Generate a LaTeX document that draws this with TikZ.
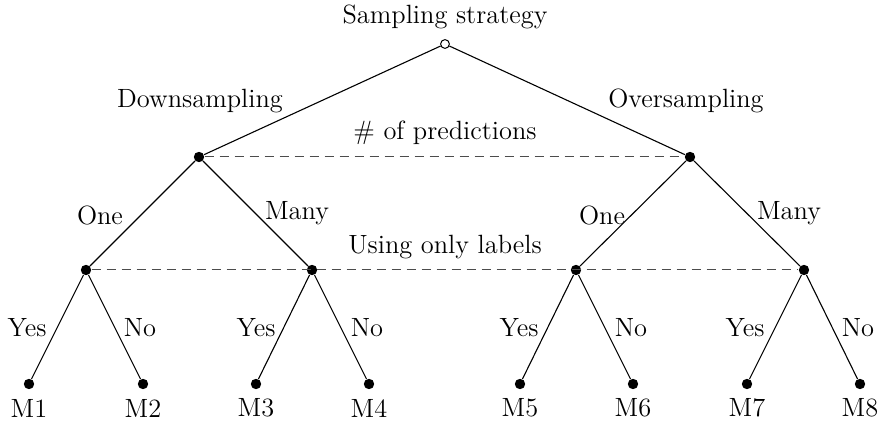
\documentclass[tikz,border=0pt]{standalone}
\begin{document}
\begin{tikzpicture}[x=0.5pt,y=-0.5pt,
  font=\fontsize{13.2}{16}\selectfont,
  dot/.style={circle,fill=black,inner sep=0pt,minimum size=5.2pt},
  opendot/.style={circle,draw=black,fill=white,inner sep=0pt,minimum size=4.4pt,line width=0.5pt},
  lbl/.style={inner sep=0pt},
  branch/.style={line width=0.55pt},
  level/.style={dash pattern=on 4.5pt off 3pt,draw=black!70,line width=0.5pt}]
\useasboundingbox (0,0) rectangle (880,422);

% tree nodes
\node[opendot] (root) at (445,44) {};
\node[dot] (d) at (199,157) {};
\node[dot] (o) at (690,157) {};
\node[dot] (d1) at (86,270) {};
\node[dot] (dm) at (312,270) {};
\node[dot] (o1) at (576,270) {};
\node[dot] (om) at (804,270) {};
\node[dot] (m1) at (29,384) {};
\node[dot] (m2) at (143,384) {};
\node[dot] (m3) at (256,384) {};
\node[dot] (m4) at (369,384) {};
\node[dot] (m5) at (520,384) {};
\node[dot] (m6) at (633,384) {};
\node[dot] (m7) at (747,384) {};
\node[dot] (m8) at (860,384) {};

% level separators
\draw[level] (d) -- (o);
\draw[level] (d1) -- (om);

% branches
\draw[branch] (root) -- (d);
\draw[branch] (root) -- (o);
\draw[branch] (d) -- (d1);
\draw[branch] (d) -- (dm);
\draw[branch] (o) -- (o1);
\draw[branch] (o) -- (om);
\draw[branch] (d1) -- (m1);
\draw[branch] (d1) -- (m2);
\draw[branch] (dm) -- (m3);
\draw[branch] (dm) -- (m4);
\draw[branch] (o1) -- (m5);
\draw[branch] (o1) -- (m6);
\draw[branch] (om) -- (m7);
\draw[branch] (om) -- (m8);

% labels
\node[lbl] (t0) at (445,17) {Sampling strategy};
\node[lbl] (tds) at (200,101) {Downsampling};
\node[lbl] (tos) at (686,101) {Oversampling};
\node[lbl] (tpred) at (445,133) {\# of predictions};
\node[lbl] (tlab) at (445,247) {Using only labels};
\node[lbl] (tone1) at (100,215) {One};
\node[lbl] (tmany1) at (297,213) {Many};
\node[lbl] (tone2) at (602,215) {One};
\node[lbl] (tmany2) at (789,213) {Many};
\node[lbl] (y1) at (27,328) {Yes};
\node[lbl] (n1) at (140,328) {No};
\node[lbl] (y2) at (256,328) {Yes};
\node[lbl] (n2) at (367,328) {No};
\node[lbl] (y3) at (519,328) {Yes};
\node[lbl] (n3) at (631,328) {No};
\node[lbl] (y4) at (745,328) {Yes};
\node[lbl] (n4) at (858,328) {No};
\foreach \i/\x in {1/29,2/143,3/256,4/369,5/520,6/633,7/747,8/860}
  \node[lbl] (lm\i) at (\x,408) {M\i};
\end{tikzpicture}
\end{document}
